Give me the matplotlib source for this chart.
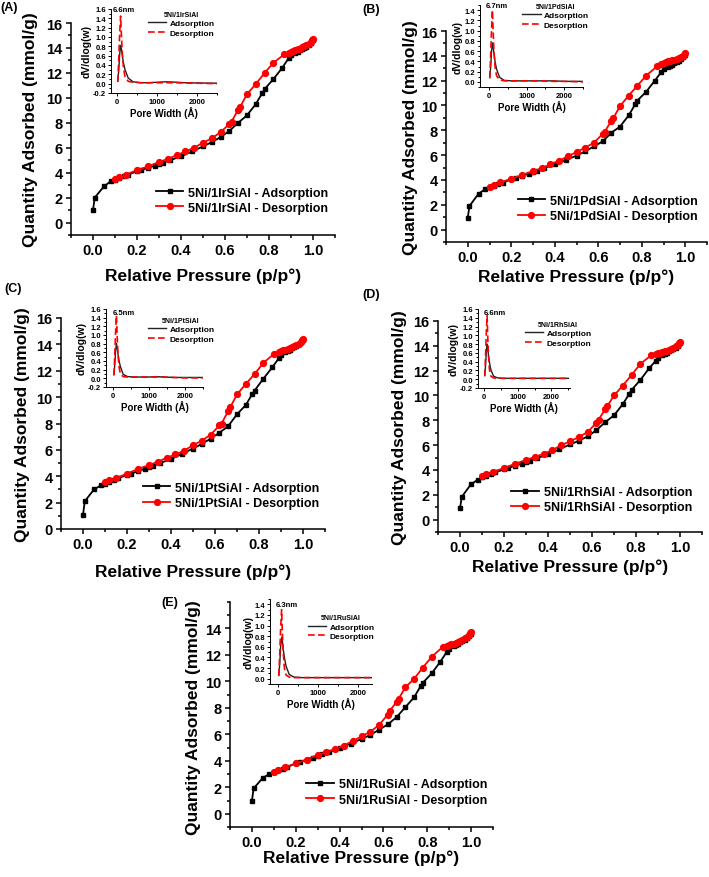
import matplotlib
matplotlib.use('Agg')
import matplotlib.pyplot as plt
from matplotlib.ticker import MultipleLocator

plt.rcParams['font.family'] = ['Liberation Sans', 'DejaVu Sans']
plt.rcParams['font.weight'] = 'bold'
plt.rcParams['axes.labelweight'] = 'bold'

W, H = 709, 878

# ---- isotherm data (relative pressure, quantity adsorbed mmol/g) ----
P_ADS = [0.0, 0.008, 0.05, 0.08, 0.10, 0.12, 0.14, 0.16,
         0.20, 0.22, 0.25, 0.28, 0.30, 0.32, 0.35,
         0.40, 0.45, 0.50, 0.54, 0.58, 0.62, 0.66, 0.70, 0.74, 0.77, 0.78, 0.82, 0.86, 0.89,
         0.90, 0.92, 0.93, 0.94, 0.95, 0.96, 0.97, 0.98, 0.99, 1.0]
P_DES = [1.0, 0.995, 0.99, 0.98, 0.97, 0.96, 0.95, 0.94, 0.93, 0.92, 0.91, 0.90, 0.89, 0.87,
         0.82, 0.78, 0.74, 0.70, 0.67, 0.66, 0.63, 0.62, 0.58, 0.54,
         0.50, 0.46, 0.42, 0.38, 0.34, 0.30, 0.25, 0.20, 0.15, 0.12, 0.10]

IR_ADS = [1.0, 2.0, 2.9, 3.3, 3.45, 3.6, 3.72, 3.85,
          4.1, 4.2, 4.4, 4.55, 4.7, 4.8, 5.0,
          5.3, 5.7, 6.1, 6.45, 6.85, 7.35, 8.0, 8.6, 9.5, 10.4, 10.7, 11.5, 12.4, 13.2,
          13.4, 13.6, 13.7, 13.8, 13.9, 14.0, 14.1, 14.25, 14.4, 14.6]
IR_DES = [14.75, 14.65, 14.5, 14.35, 14.25, 14.15, 14.05, 13.95, 13.9, 13.8, 13.75, 13.7, 13.6, 13.5,
          12.8, 12.0, 11.1, 10.3, 9.3, 9.05, 8.1, 7.9, 7.25, 6.75,
          6.4, 6.0, 5.7, 5.4, 5.1, 4.85, 4.5, 4.2, 3.85, 3.65, 3.5]

PD_ADS = [0.97, 1.9, 2.9, 3.25, 3.4, 3.55, 3.65, 3.78,
          4.05, 4.15, 4.35, 4.5, 4.65, 4.75, 4.95,
          5.25, 5.6, 5.95, 6.3, 6.7, 7.1, 7.8, 8.3, 9.2, 10.1, 10.4, 11.1, 12.0, 12.7,
          12.9, 13.1, 13.2, 13.3, 13.4, 13.5, 13.6, 13.75, 13.9, 14.1]
PD_DES = [14.2, 14.1, 14.0, 13.9, 13.8, 13.75, 13.7, 13.65, 13.6, 13.55, 13.5, 13.45, 13.35, 13.15,
          12.4, 11.6, 10.8, 9.95, 9.0, 8.75, 7.9, 7.7, 7.0, 6.6,
          6.25, 5.9, 5.55, 5.25, 4.95, 4.7, 4.4, 4.1, 3.8, 3.6, 3.45]

PT_ADS = [1.06, 2.1, 3.0, 3.3, 3.45, 3.6, 3.72, 3.85,
          4.1, 4.2, 4.4, 4.55, 4.7, 4.8, 5.0,
          5.3, 5.7, 6.1, 6.45, 6.85, 7.3, 7.8, 8.7, 9.4, 10.25, 10.5, 11.4, 12.25, 12.95,
          13.2, 13.4, 13.5, 13.6, 13.7, 13.8, 13.9, 14.0, 14.15, 14.3]
PT_DES = [14.4, 14.3, 14.2, 14.05, 13.95, 13.85, 13.78, 13.7, 13.65, 13.6, 13.55, 13.5, 13.45, 13.3,
          12.6, 11.75, 11.0, 10.2, 9.25, 8.95, 8.0, 7.85, 7.15, 6.7,
          6.35, 5.95, 5.65, 5.4, 5.1, 4.85, 4.55, 4.2, 3.85, 3.7, 3.55]

RH_ADS = [0.9, 1.83, 2.85, 3.2, 3.4, 3.55, 3.65, 3.8,
          4.05, 4.15, 4.35, 4.5, 4.65, 4.75, 4.95,
          5.25, 5.65, 6.05, 6.35, 6.7, 7.2, 7.85, 8.4, 9.3, 10.15, 10.45, 11.25, 12.2, 12.8,
          13.05, 13.25, 13.35, 13.45, 13.55, 13.65, 13.75, 13.85, 14.0, 14.2]
RH_DES = [14.3, 14.2, 14.1, 13.95, 13.85, 13.78, 13.7, 13.62, 13.55, 13.5, 13.45, 13.4, 13.35, 13.25,
          12.55, 11.65, 10.8, 10.0, 9.15, 8.9, 8.05, 7.8, 7.05, 6.65,
          6.3, 6.0, 5.6, 5.3, 5.05, 4.8, 4.5, 4.15, 3.85, 3.65, 3.5]

RU_ADS = [1.0, 1.92, 2.72, 3.0, 3.15, 3.3, 3.4, 3.52,
          3.8, 3.9, 4.1, 4.25, 4.4, 4.5, 4.65,
          4.95, 5.3, 5.65, 5.95, 6.35, 6.75, 7.3, 8.05, 8.8, 9.65, 9.9, 10.6, 11.5, 12.25,
          12.45, 12.65, 12.75, 12.85, 12.95, 13.05, 13.15, 13.25, 13.4, 13.6]
RU_DES = [13.75, 13.65, 13.5, 13.35, 13.25, 13.15, 13.05, 12.98, 12.9, 12.85, 12.8, 12.75, 12.7, 12.6,
          11.85, 11.05, 10.2, 9.55, 8.7, 8.45, 7.8, 7.5, 6.7, 6.2,
          5.85, 5.5, 5.15, 4.9, 4.65, 4.45, 4.1, 3.8, 3.5, 3.3, 3.15]

# ---- pore size distribution insets (pore width in A, dV/dlog(w)) ----
PORE_W = [20, 45, 66, 90, 110, 130, 160, 200, 280, 400, 600, 800, 1000, 1200, 1400, 1700, 2000, 2500]

IR_PSD_ADS = [0.05, 0.30, 0.62, 0.82, 0.74, 0.62, 0.45, 0.30, 0.12, 0.04, 0.02, 0.02, 0.03, 0.04, 0.035, 0.02, 0.015, 0.01]
IR_PSD_DES = [0.05, 0.55, 1.05, 1.45, 1.05, 0.70, 0.35, 0.15, 0.05, 0.03, 0.02, 0.02, 0.02, 0.02, 0.02, 0.015, 0.01, 0.0]
PD_PSD_ADS = [0.08, 0.30, 0.58, 0.76, 0.68, 0.56, 0.40, 0.25, 0.09, 0.03, 0.02, 0.02, 0.02, 0.02, 0.02, 0.02, 0.01, 0.01]
PD_PSD_DES = [0.08, 0.55, 1.00, 1.40, 1.00, 0.62, 0.30, 0.12, 0.04, 0.02, 0.02, 0.02, 0.02, 0.02, 0.02, 0.01, 0.01, 0.0]
PT_PSD_ADS = [0.08, 0.32, 0.62, 0.80, 0.72, 0.58, 0.42, 0.27, 0.09, 0.04, 0.03, 0.03, 0.03, 0.04, 0.03, 0.02, 0.02, 0.02]
PT_PSD_DES = [0.08, 0.55, 1.05, 1.45, 1.00, 0.62, 0.28, 0.10, 0.04, 0.03, 0.03, 0.03, 0.03, 0.03, 0.03, 0.02, 0.01, 0.01]
RH_PSD_ADS = [0.08, 0.32, 0.62, 0.80, 0.70, 0.55, 0.38, 0.22, 0.07, 0.03, 0.02, 0.02, 0.02, 0.02, 0.02, 0.02, 0.02, 0.02]
RH_PSD_DES = [0.08, 0.55, 1.05, 1.45, 0.95, 0.55, 0.22, 0.07, 0.03, 0.02, 0.02, 0.02, 0.02, 0.02, 0.02, 0.02, 0.02, 0.02]
RU_PSD_ADS = [0.06, 0.30, 0.60, 0.78, 0.70, 0.56, 0.40, 0.24, 0.08, 0.03, 0.02, 0.02, 0.02, 0.02, 0.02, 0.02, 0.02, 0.02]
RU_PSD_DES = [0.06, 0.50, 0.95, 1.30, 0.85, 0.50, 0.20, 0.07, 0.03, 0.02, 0.02, 0.02, 0.02, 0.02, 0.02, 0.02, 0.02, 0.02]

SAMPLES = ['5Ni/1IrSiAl', '5Ni/1PdSiAl', '5Ni/1PtSiAl', '5Ni/1RhSiAl', '5Ni/1RuSiAl']
PEAK_LABELS = ['6.6nm', '6.7nm', '6.5nm', '6.6nm', '6.3nm']
PANEL_TAGS = ['(A)', '(B)', '(C)', '(D)', '(E)']
ISO_ADS = [IR_ADS, PD_ADS, PT_ADS, RH_ADS, RU_ADS]
ISO_DES = [IR_DES, PD_DES, PT_DES, RH_DES, RU_DES]
PSD_ADS = [IR_PSD_ADS, PD_PSD_ADS, PT_PSD_ADS, RH_PSD_ADS, RU_PSD_ADS]
PSD_DES = [IR_PSD_DES, PD_PSD_DES, PT_PSD_DES, RH_PSD_DES, RU_PSD_DES]

# layout in pixels: main box (l, t, r, b), inset box, etc.
LAYOUT = [
    dict(main=(71, 24, 335, 236), ylim=(-1, 16), yticks=range(0, 17, 2),
         inset=(111, 10, 217, 94), in_ylim=(-0.2, 1.6), in_xlim=(-150, 2500), in_yt=(-0.2, 1.61),
         tag=(0, 2), leg=(0.975, 0.10), ylab=(-0.155, 0.5), xlab=(0.5, -0.19),
         in_leg=(0.35, 0.98), peak=(0.02, 1.0)),
    dict(main=(446, 32, 707, 243), ylim=(-1, 16), yticks=range(0, 17, 2),
         inset=(480, 6, 583, 88), in_ylim=(-0.1, 1.5), in_xlim=(-240, 2500), in_yt=(0.0, 1.41),
         tag=(362, 4), leg=(0.965, 0.095), ylab=(-0.135, 0.5), xlab=(0.5, -0.16),
         in_leg=(0.41, 1.03), peak=(0.06, 0.99)),
    dict(main=(61, 319, 325, 530), ylim=(0, 16), yticks=range(0, 17, 2),
         inset=(106, 310, 203, 388), in_ylim=(-0.2, 1.6), in_xlim=(-200, 2500), in_yt=(-0.2, 1.61),
         tag=(4, 283), leg=(0.98, 0.095), ylab=(-0.144, 0.5), xlab=(0.5, -0.2),
         in_leg=(0.43, 0.90), peak=(0.07, 0.96)),
    dict(main=(438, 322, 702, 533), ylim=(-1, 16), yticks=range(0, 17, 2),
         inset=(478, 310, 570, 389), in_ylim=(-0.2, 1.6), in_xlim=(-180, 2550), in_yt=(-0.2, 1.61),
         tag=(362, 289), leg=(0.962, 0.09), ylab=(-0.144, 0.5), xlab=(0.5, -0.16),
         in_leg=(0.51, 0.85), peak=(0.06, 0.96)),
    dict(main=(230, 603, 493, 828), ylim=(-1, 16), yticks=range(0, 15, 2),
         inset=(270, 600, 372, 685), in_ylim=(-0.1, 1.5), in_xlim=(-200, 2350), in_yt=(0.0, 1.41),
         tag=(161, 597), leg=(0.977, 0.095), ylab=(-0.14, 0.49), xlab=(0.5, -0.133),
         in_leg=(0.37, 0.82), peak=(0.06, 0.93)),
]


def px_box(l, t, r, b):
    return [l / W, 1 - b / H, (r - l) / W, (b - t) / H]


def origin_style(ax, lw, major, minor):
    ax.spines['top'].set_visible(False)
    ax.spines['right'].set_visible(False)
    ax.spines['left'].set_linewidth(lw)
    ax.spines['bottom'].set_linewidth(lw)
    ax.tick_params(which='major', direction='out', length=major, width=lw)
    ax.tick_params(which='minor', direction='out', length=minor, width=lw)
    ax.patch.set_alpha(0)


fig = plt.figure(figsize=(W / 100, H / 100), dpi=100)

for i, cfg in enumerate(LAYOUT):
    name = SAMPLES[i]

    ax = fig.add_axes(px_box(*cfg['main']))
    ax.plot(P_ADS, ISO_ADS[i], '-s', color='black', ms=3.4, lw=1.3,
            label=f'{name} - Adsorption')
    ax.plot(P_DES, ISO_DES[i], '-o', color='red', ms=4.2, lw=1.3,
            label=f'{name} - Desorption')
    ax.set_xlim(-0.1, 1.1)
    ax.set_ylim(*cfg['ylim'])
    ax.set_xticks([0.0, 0.2, 0.4, 0.6, 0.8, 1.0])
    ax.xaxis.set_minor_locator(MultipleLocator(0.1))
    ax.set_yticks(list(cfg['yticks']))
    ax.yaxis.set_minor_locator(MultipleLocator(1))
    origin_style(ax, 1.1, 3.5, 2)
    ax.tick_params(labelsize=10.5, pad=2.5)
    for lab in ax.get_xticklabels() + ax.get_yticklabels():
        lab.set_fontweight('bold')
    ax.set_xlabel('Relative Pressure (p/p°)', fontsize=12.5, fontweight='bold')
    ax.set_ylabel('Quantity Adsorbed (mmol/g)', fontsize=12.5, fontweight='bold')
    ax.xaxis.label.set_va('center')
    ax.yaxis.label.set_va('center')
    ax.xaxis.set_label_coords(*cfg['xlab'])
    ax.yaxis.set_label_coords(*cfg['ylab'])
    leg = ax.legend(loc='lower right', bbox_to_anchor=cfg['leg'], frameon=False,
                    fontsize=9, handlelength=2.2, handletextpad=0.4,
                    labelspacing=0.25, borderpad=0, borderaxespad=0)
    for t in leg.get_texts():
        t.set_fontweight('bold')

    fig.text(cfg['tag'][0] / W, 1 - cfg['tag'][1] / H, PANEL_TAGS[i],
             fontsize=9, fontweight='bold', va='top', ha='left')

    # pore size distribution inset
    ai = fig.add_axes(px_box(*cfg['inset']))
    ai.plot(PORE_W, PSD_ADS[i], color='#222222', lw=1.0, label='Adsorption')
    ai.plot(PORE_W, PSD_DES[i], color='red', lw=1.2, ls='--', dashes=(4, 2),
            label='Desorption')
    ai.set_xlim(*cfg['in_xlim'])
    ai.set_ylim(*cfg['in_ylim'])
    ai.set_xticks([0, 1000, 2000])
    ai.xaxis.set_minor_locator(MultipleLocator(500))
    y0, y1 = cfg['in_yt']
    yt = [round(y0 + 0.2 * k, 1) for k in range(int(round((y1 - y0) / 0.2)) + 1)]
    ai.set_yticks(yt)
    ai.set_yticklabels([f'{v:.1f}' for v in yt])
    ai.yaxis.set_minor_locator(MultipleLocator(0.1))
    origin_style(ai, 0.7, 2, 1.2)
    ai.tick_params(labelsize=5.5, pad=1.5)
    for lab in ai.get_xticklabels() + ai.get_yticklabels():
        lab.set_fontweight('bold')
    ai.set_xlabel('Pore Width (Å)', fontsize=7, fontweight='bold', labelpad=1)
    ai.set_ylabel('dV/dlog(w)', fontsize=7.5, fontweight='bold', labelpad=1)
    ai.text(cfg['peak'][0], cfg['peak'][1], PEAK_LABELS[i], transform=ai.transAxes,
            fontsize=5.5, fontweight='bold', va='center', ha='left')
    il = ai.legend(loc='upper left', bbox_to_anchor=cfg['in_leg'], frameon=False,
                   fontsize=6, title=name, handlelength=2.2, handletextpad=0.4,
                   labelspacing=0.2, borderpad=0, borderaxespad=0,
                   title_fontproperties={'size': 5, 'weight': 'bold'})
    for t in il.get_texts():
        t.set_fontweight('bold')

fig.savefig('out.png', dpi=100)
